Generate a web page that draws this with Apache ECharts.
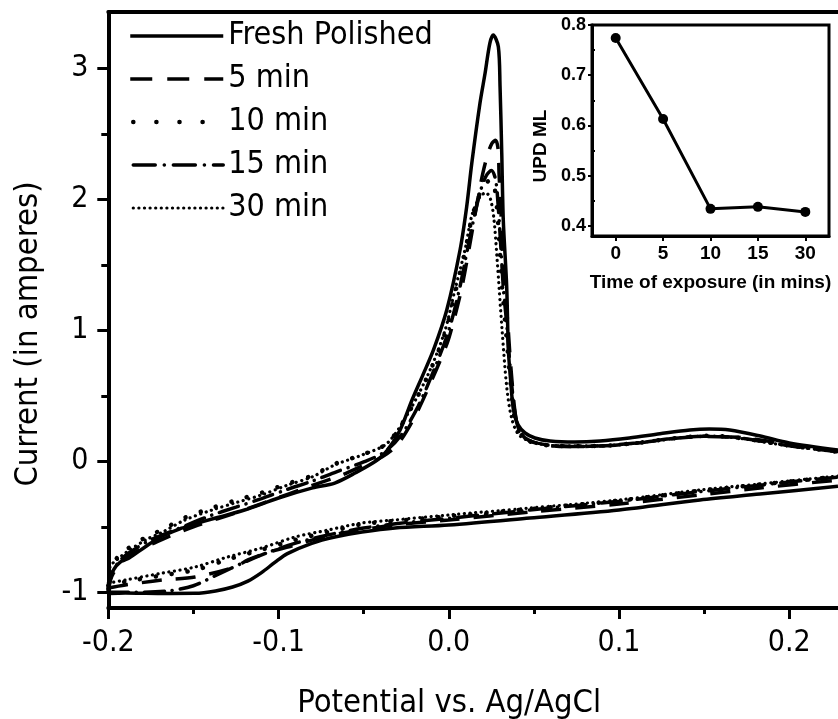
<!DOCTYPE html>
<html>
<head>
<meta charset="utf-8">
<script src="https://cdn.jsdelivr.net/npm/echarts@6/dist/echarts.min.js"></script>
<style>
html,body{margin:0;padding:0;background:#fff;}
#chart{width:838px;height:719px;}
</style>
</head>
<body>
<div id="chart"></div>
<script>
// ---- Main plot data: [potential (V), current] ----
const seriesNames = ['Fresh Polished', '5 min', '10 min', '15 min', '30 min'];

const freshUpper = [[-0.2,-1.005],[-0.199,-0.906],[-0.197,-0.83],[-0.193,-0.77],[-0.188,-0.74],[-0.178,-0.65],[-0.169,-0.576],[-0.157,-0.511],[-0.151,-0.486],[-0.137,-0.433],[-0.12,-0.372],[-0.1,-0.28],[-0.08,-0.203],[-0.067,-0.166],[-0.055,-0.089],[-0.042,0.01],[-0.036,0.086],[-0.0286,0.239],[-0.0216,0.468],[-0.0152,0.66],[-0.009,0.85],[-0.0012,1.155],[0.0066,1.613],[0.0105,1.944],[0.0135,2.275],[0.0183,2.733],[0.0213,2.962],[0.0241,3.191],[0.0261,3.254],[0.0291,3.165],[0.0301,2.86],[0.0311,2.353],[0.032,1.842],[0.034,1.333],[0.035,0.85],[0.0363,0.62],[0.038,0.39],[0.0407,0.278],[0.0448,0.216],[0.0506,0.178],[0.0595,0.155],[0.074,0.147],[0.0888,0.155],[0.106,0.178],[0.124,0.21],[0.1416,0.239],[0.153,0.247],[0.165,0.239],[0.183,0.193],[0.2,0.14],[0.2286,0.086]];
const freshLower = [[-0.2,-1.01],[-0.19,-1.005],[-0.178,-1.008],[-0.164,-1.009],[-0.149,-1.008],[-0.137,-0.99],[-0.127,-0.96],[-0.118,-0.915],[-0.11,-0.85],[-0.102,-0.77],[-0.0948,-0.705],[-0.0805,-0.626],[-0.067,-0.578],[-0.051,-0.54],[-0.0316,-0.509],[0,-0.486],[0.0476,-0.433],[0.1,-0.372],[0.1475,-0.295],[0.1827,-0.25],[0.2286,-0.19]];

const min5Upper = [[-0.2,-0.99],[-0.198,-0.88],[-0.193,-0.78],[-0.185,-0.7],[-0.1666,-0.586],[-0.15,-0.5],[-0.1256,-0.395],[-0.105,-0.3],[-0.0828,-0.196],[-0.0628,-0.104],[-0.05,-0.03],[-0.0393,0.033],[-0.03,0.13],[-0.02,0.34],[-0.01,0.62],[-0.001,0.9],[0.0018,1.02],[0.0077,1.33],[0.0135,1.74],[0.017,2.0],[0.02,2.2],[0.023,2.35],[0.0255,2.43],[0.0275,2.45],[0.029,2.38],[0.0295,2.2],[0.0305,1.94],[0.0316,1.59],[0.0325,1.33],[0.0345,1.08],[0.0357,0.85],[0.0372,0.6],[0.0392,0.35],[0.042,0.22],[0.047,0.16],[0.056,0.125],[0.07,0.112],[0.09,0.118],[0.11,0.14],[0.13,0.172],[0.15,0.192],[0.17,0.183],[0.19,0.15],[0.21,0.11],[0.2286,0.076]];
const min5Lower = [[-0.2,-0.967],[-0.19,-0.944],[-0.168,-0.906],[-0.149,-0.883],[-0.1256,-0.807],[-0.118,-0.753],[-0.105,-0.692],[-0.0903,-0.639],[-0.0756,-0.585],[-0.059,-0.54],[-0.0316,-0.486],[0,-0.448],[0.0476,-0.387],[0.1,-0.326],[0.1475,-0.257],[0.1827,-0.204],[0.2286,-0.143]];

const min10Upper = [[-0.2,-0.97],[-0.199,-0.82],[-0.195,-0.74],[-0.19,-0.68],[-0.178,-0.58],[-0.168,-0.52],[-0.155,-0.43],[-0.139,-0.355],[-0.1256,-0.3],[-0.11,-0.24],[-0.0945,-0.17],[-0.0804,-0.11],[-0.067,-0.02],[-0.051,0.05],[-0.036,0.14],[-0.0228,0.39],[-0.011,0.69],[-0.0022,0.98],[0.0036,1.28],[0.0095,1.6],[0.0136,1.86],[0.018,2.04],[0.0215,2.12],[0.025,2.15],[0.027,2.08],[0.0285,1.9],[0.03,1.6],[0.0315,1.3],[0.0335,1.0],[0.0352,0.75],[0.037,0.5],[0.039,0.3],[0.0425,0.2],[0.049,0.145],[0.0636,0.117],[0.0871,0.117],[0.1106,0.14],[0.1341,0.178],[0.1517,0.195],[0.1693,0.18],[0.2,0.12],[0.2286,0.072]];
const min10Lower = [[-0.2,-0.95],[-0.19,-0.92],[-0.168,-0.87],[-0.149,-0.83],[-0.13,-0.75],[-0.11,-0.675],[-0.0903,-0.6],[-0.071,-0.54],[-0.051,-0.48],[-0.0316,-0.455],[0,-0.42],[0.0476,-0.365],[0.1,-0.3],[0.1475,-0.225],[0.1827,-0.178],[0.2286,-0.115]];

const min15Upper = [[-0.2,-0.99],[-0.198,-0.86],[-0.194,-0.77],[-0.188,-0.7],[-0.175,-0.6],[-0.16,-0.52],[-0.14,-0.415],[-0.125,-0.35],[-0.11,-0.285],[-0.095,-0.215],[-0.08,-0.15],[-0.066,-0.08],[-0.05,-0.005],[-0.038,0.07],[-0.028,0.2],[-0.018,0.42],[-0.008,0.72],[0.0,1.0],[0.006,1.3],[0.011,1.62],[0.0155,1.9],[0.019,2.08],[0.022,2.18],[0.025,2.22],[0.0275,2.15],[0.029,1.95],[0.0305,1.65],[0.032,1.33],[0.034,1.05],[0.0355,0.8],[0.0372,0.55],[0.0395,0.32],[0.0425,0.21],[0.048,0.155],[0.058,0.125],[0.075,0.112],[0.095,0.12],[0.115,0.145],[0.135,0.178],[0.152,0.19],[0.17,0.18],[0.2,0.118],[0.2286,0.073]];
const min15Lower = [[-0.2,-1.0],[-0.185,-1.0],[-0.165,-0.99],[-0.15,-0.95],[-0.135,-0.86],[-0.12,-0.77],[-0.105,-0.69],[-0.09,-0.625],[-0.07,-0.56],[-0.05,-0.51],[-0.03,-0.475],[0,-0.435],[0.0476,-0.372],[0.1,-0.305],[0.1475,-0.232],[0.1827,-0.182],[0.2286,-0.12]];

const min30Upper = [[-0.2,-0.98],[-0.199,-0.805],[-0.195,-0.753],[-0.19,-0.7],[-0.178,-0.6],[-0.168,-0.54],[-0.155,-0.448],[-0.139,-0.372],[-0.1256,-0.318],[-0.11,-0.257],[-0.0945,-0.181],[-0.0804,-0.12],[-0.067,-0.028],[-0.051,0.048],[-0.036,0.14],[-0.0228,0.392],[-0.011,0.697],[-0.0022,1.0],[0.0036,1.308],[0.0095,1.613],[0.0136,1.88],[0.0183,2.02],[0.0218,2.05],[0.0245,2.0],[0.0265,1.85],[0.0284,1.536],[0.0313,1.0],[0.0342,0.545],[0.0372,0.315],[0.0413,0.2],[0.049,0.147],[0.0636,0.117],[0.0871,0.117],[0.1106,0.14],[0.1341,0.178],[0.1517,0.193],[0.1693,0.178],[0.2,0.117],[0.2286,0.071]];
const min30Lower = [[-0.2,-0.93],[-0.19,-0.906],[-0.168,-0.853],[-0.149,-0.807],[-0.13,-0.731],[-0.11,-0.662],[-0.0903,-0.578],[-0.071,-0.525],[-0.051,-0.471],[-0.0316,-0.448],[0,-0.41],[0.0476,-0.357],[0.1,-0.295],[0.1475,-0.219],[0.1827,-0.173],[0.2286,-0.112]];

// ---- Axis ticks ----
const xTickValues = [-0.2, -0.1, 0, 0.1, 0.2];
const xMinorTicks = [-0.15, -0.05, 0.05, 0.15];
const yTickValues = [-1, 0, 1, 2, 3];
const yMinorTicks = [-0.5, 0.5, 1.5, 2.5];

// ---- Inset data ----
const insetCategories = ['0', '5', '10', '15', '30'];
const insetValues = [0.774, 0.613, 0.434, 0.438, 0.428];
const insetYTicks = [0.4, 0.5, 0.6, 0.7, 0.8];
const insetYMinor = [0.45, 0.55, 0.65, 0.75];

const mainFont = "'DejaVu Sans Condensed', 'DejaVu Sans', sans-serif";
const insetFont = "'Liberation Sans', Arial, sans-serif";

const styles = {
  'Fresh Polished': { type: 'solid', width: 3.5, cap: 'butt' },
  '5 min': { type: [20, 14], width: 3.5, cap: 'butt' },
  '10 min': { type: [0.1, 16], width: 4.5, cap: 'round' },
  '15 min': { type: [20, 8, 0.1, 8], width: 3.5, cap: 'round' },
  '30 min': { type: [0.1, 5.5], width: 3.2, cap: 'round' }
};
const legendLineStyles = {
  'Fresh Polished': { type: 'solid', width: 3.5 },
  '5 min': { type: [22, 15], width: 3.5, cap: 'butt' },
  '10 min': { type: [0.1, 23], width: 4.5, cap: 'round', dashOffset: -3 },
  '15 min': { type: [22, 9, 0.1, 9], width: 3.5, cap: 'round' },
  '30 min': { type: [0.1, 5.5], width: 3.2, cap: 'round' }
};
const curveData = {
  'Fresh Polished': [freshUpper, freshLower],
  '5 min': [min5Upper, min5Lower],
  '10 min': [min10Upper, min10Lower],
  '15 min': [min15Upper, min15Lower],
  '30 min': [min30Upper, min30Lower]
};

const series = [];
seriesNames.forEach(function (name) {
  curveData[name].forEach(function (branch) {
    series.push({
      name: name,
      type: 'line',
      xAxisIndex: 0,
      yAxisIndex: 0,
      data: branch,
      showSymbol: false,
      symbol: 'none',
      smooth: 0.3,
      clip: true,
      lineStyle: Object.assign({ color: '#000' }, styles[name]),
      itemStyle: { color: '#000' },
      z: name === 'Fresh Polished' ? 5 : 4
    });
  });
});

series.push({
  name: 'UPD ML',
  type: 'line',
  xAxisIndex: 3,
  yAxisIndex: 2,
  data: insetValues,
  symbol: 'circle',
  symbolSize: 10,
  lineStyle: { color: '#000', width: 3 },
  itemStyle: { color: '#000' },
  z: 10
});

const chart = echarts.init(document.getElementById('chart'), null, { renderer: 'canvas' });
chart.setOption({
  animation: false,
  backgroundColor: '#fff',
  legend: {
    data: seriesNames.map(function (n) {
      return { name: n, lineStyle: Object.assign({ color: '#000' }, legendLineStyles[n]), itemStyle: { opacity: 0 } };
    }),
    orient: 'vertical',
    left: 128,
    top: 20,
    padding: 0,
    itemWidth: 93,
    itemHeight: 14,
    itemGap: 11,
    itemStyle: { opacity: 0 },
    textStyle: { fontFamily: mainFont, fontSize: 32, color: '#000', lineHeight: 32 },
    inactiveColor: '#000'
  },
  grid: [
    { left: 108.3, top: 12, right: 0, bottom: 111, show: false, containLabel: false, outerBoundsMode: 'none' },
    { left: 592, top: 25, right: 9, bottom: 483, show: true, borderColor: '#000', borderWidth: 3, backgroundColor: '#fff', z: 8, containLabel: false, outerBoundsMode: 'none' }
  ],
  xAxis: [
    {
      type: 'value', gridIndex: 0, min: -0.2, max: 0.2286, position: 'bottom',
      name: 'Potential vs. Ag/AgCl', nameLocation: 'middle', nameGap: 79,
      nameTextStyle: { fontFamily: mainFont, fontSize: 32.5, color: '#000', padding: [0, 48, 0, 0] },
      axisLine: { show: true, onZero: false, lineStyle: { color: '#000', width: 4 } },
      axisTick: { show: true, customValues: xTickValues, length: 11, lineStyle: { color: '#000', width: 3 } },
      axisLabel: { customValues: xTickValues, margin: 20, fontFamily: mainFont, fontSize: 30, color: '#000',
        formatter: function (v) { return v.toFixed(1); } },
      splitLine: { show: false }
    },
    {
      type: 'value', gridIndex: 0, min: -0.2, max: 0.2286, position: 'bottom',
      axisLine: { show: false, onZero: false },
      axisTick: { show: true, customValues: xMinorTicks, length: 6, lineStyle: { color: '#000', width: 3 } },
      axisLabel: { show: false },
      splitLine: { show: false }
    },
    {
      type: 'value', gridIndex: 0, min: -0.2, max: 0.2286, position: 'top',
      axisLine: { show: true, onZero: false, lineStyle: { color: '#000', width: 4 } },
      axisTick: { show: false }, axisLabel: { show: false }, splitLine: { show: false }
    },
    {
      type: 'category', gridIndex: 1, data: insetCategories, boundaryGap: true,
      name: 'Time of exposure (in mins)', nameLocation: 'middle', nameGap: 37,
      nameTextStyle: { fontFamily: insetFont, fontWeight: 'bold', fontSize: 19, color: '#000' },
      axisLine: { show: true, lineStyle: { color: '#000', width: 3 } },
      axisTick: { show: true, alignWithLabel: true, length: 5, lineStyle: { color: '#000', width: 2 } },
      axisLabel: { margin: 8, fontFamily: insetFont, fontWeight: 'bold', fontSize: 19, color: '#000' },
      splitLine: { show: false }, z: 9
    }
  ],
  yAxis: [
    {
      type: 'value', gridIndex: 0, min: -1.12, max: 3.43, position: 'left',
      name: 'Current (in amperes)', nameLocation: 'middle', nameGap: 63,
      nameTextStyle: { fontFamily: mainFont, fontSize: 32.5, color: '#000', padding: [0, 48, 0, 0] },
      axisLine: { show: true, onZero: false, lineStyle: { color: '#000', width: 4 } },
      axisTick: { show: true, customValues: yTickValues, length: 11, lineStyle: { color: '#000', width: 3 } },
      axisLabel: { customValues: yTickValues, margin: 20, fontFamily: mainFont, fontSize: 30, color: '#000' },
      splitLine: { show: false }
    },
    {
      type: 'value', gridIndex: 0, min: -1.12, max: 3.43, position: 'left',
      axisLine: { show: false, onZero: false },
      axisTick: { show: true, customValues: yMinorTicks, length: 7, lineStyle: { color: '#000', width: 3 } },
      axisLabel: { show: false }, splitLine: { show: false }
    },
    {
      type: 'value', gridIndex: 1, min: 0.38, max: 0.8, position: 'left',
      name: 'UPD ML', nameLocation: 'middle', nameGap: 42,
      nameTextStyle: { fontFamily: insetFont, fontWeight: 'bold', fontSize: 19, color: '#000', padding: [0, 31, 0, 0] },
      axisLine: { show: true, onZero: false, lineStyle: { color: '#000', width: 3 } },
      axisTick: { show: true, customValues: insetYTicks, length: 4, lineStyle: { color: '#000', width: 2 } },
      axisLabel: { customValues: insetYTicks, margin: 6, fontFamily: insetFont, fontWeight: 'bold', fontSize: 18, color: '#000',
        formatter: function (v) { return v.toFixed(1); } },
      splitLine: { show: false }, z: 9
    },
    {
      type: 'value', gridIndex: 1, min: 0.38, max: 0.8, position: 'left',
      axisLine: { show: false, onZero: false },
      axisTick: { show: true, inside: true, customValues: insetYMinor, length: 3, lineStyle: { color: '#000', width: 2 } },
      axisLabel: { show: false }, splitLine: { show: false }, z: 9
    }
  ],
  series: series
});
</script>
</body>
</html>
